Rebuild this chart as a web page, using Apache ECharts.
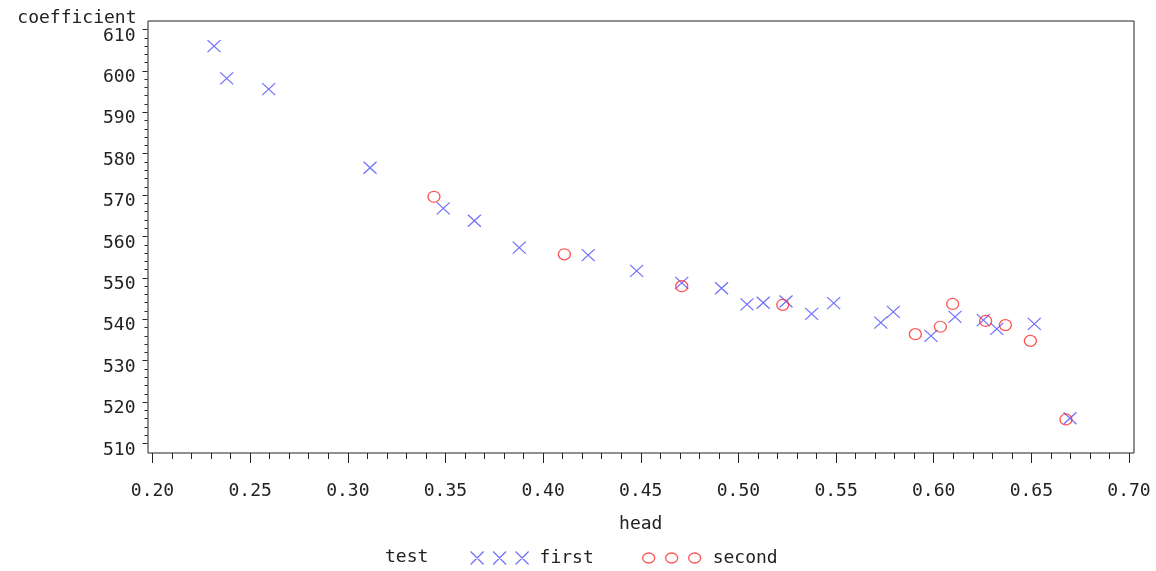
<!DOCTYPE html>
<html>
<head>
<meta charset="utf-8">
<script src="https://cdn.jsdelivr.net/npm/echarts@6/dist/echarts.min.js"></script>
<style>
  html, body { margin: 0; padding: 0; background: #fff; }
  #charts { width: 1156px; height: 571px; }
</style>
</head>
<body>
<div id="charts"></div>
<script>
// head / coefficient pairs
var headFirst = [0.2315, 0.2380, 0.2595, 0.3114, 0.3489, 0.3648, 0.3878, 0.4231, 0.4479, 0.4710, 0.4914, 0.5044,
  0.5127, 0.5244, 0.5375, 0.5488, 0.5729, 0.5793, 0.5986, 0.6109, 0.6254, 0.6323, 0.6515, 0.6698];
var coefFirst = [606.0, 598.2, 595.6, 576.6, 566.8, 563.8, 557.3, 555.5, 551.7, 548.8, 547.5, 543.6,
  544.0, 544.3, 541.3, 543.9, 539.2, 541.8, 536.0, 540.6, 539.8, 537.7, 538.9, 516.1];
var headSecond = [0.3441, 0.4109, 0.4710, 0.5227, 0.5906, 0.6034, 0.6097, 0.6266, 0.6367, 0.6495, 0.6677];
var coefSecond = [569.6, 555.7, 548.0, 543.5, 536.4, 538.2, 543.7, 539.6, 538.6, 534.8, 515.8];

var xTicks = [0.20, 0.25, 0.30, 0.35, 0.40, 0.45, 0.50, 0.55, 0.60, 0.65, 0.70];
var yTicks = [510, 520, 530, 540, 550, 560, 570, 580, 590, 600, 610];

var FONT = 'DejaVu Sans Mono';
var INK = '#222';
var BLUE = '#4c4cff';
var RED = '#ff2a2a';

function pairs(xs, ys) {
  return xs.map(function (x, i) { return [x, ys[i]]; });
}

var crossPath = 'path://M0,0L10,10M10,0L0,10';
var crossLegend = 'path://M0,0L13,13M13,0L0,13M22.5,0L35.5,13M35.5,0L22.5,13M45,0L58,13M58,0L45,13';
var ringLegend = 'path://M0,5a6,5 0 1,0 12,0a6,5 0 1,0 -12,0M23,5a6,5 0 1,0 12,0a6,5 0 1,0 -12,0M46,5a6,5 0 1,0 12,0a6,5 0 1,0 -12,0';

var myChart = echarts.init(document.getElementById('charts'));
myChart.setOption({
  animation: false,
  backgroundColor: '#fff',
  textStyle: { fontFamily: FONT, color: INK },
  grid: [
    // outer frame
    { left: 148, top: 21, right: 22, bottom: 118, show: true, borderColor: INK, borderWidth: 1, backgroundColor: '#fff' },
    // data area, 0.20..0.70 x 510..610
    { left: 152.5, top: 29.5, right: 27, bottom: 127.5 }
  ],
  xAxis: [
    { gridIndex: 0, type: 'value', show: false },
    {
      gridIndex: 1, type: 'value',
      min: xTicks[0], max: xTicks[xTicks.length - 1], interval: 0.05,
      offset: 9.5,
      axisLine: { show: false },
      axisTick: { show: true, length: 10, lineStyle: { color: INK } },
      minorTick: { show: true, splitNumber: 5, length: 6, lineStyle: { color: INK } },
      splitLine: { show: false },
      axisLabel: {
        margin: 29, fontFamily: FONT, fontSize: 18, color: INK,
        formatter: function (v) { return v.toFixed(2); }
      },
      name: 'head', nameLocation: 'middle', nameGap: 62,
      nameTextStyle: { fontFamily: FONT, fontSize: 18, color: INK }
    }
  ],
  yAxis: [
    { gridIndex: 0, type: 'value', show: false },
    {
      gridIndex: 1, type: 'value',
      min: yTicks[0], max: yTicks[yTicks.length - 1], interval: 10,
      offset: 5,
      axisLine: { show: false },
      axisTick: { show: true, length: 5, lineStyle: { color: INK } },
      minorTick: { show: true, splitNumber: 5, length: 3, lineStyle: { color: INK } },
      splitLine: { show: false },
      axisLabel: {
        margin: 12, color: INK,
        // SAS draws the numbers a little below their tick
        formatter: function (v) { return '{n|' + v + '}'; },
        rich: { n: { fontFamily: FONT, fontSize: 18, color: INK, padding: [13, 0, 0, 0] } }
      },
      name: 'coefficient', nameLocation: 'end', nameGap: 9,
      nameTextStyle: { fontFamily: FONT, fontSize: 18, color: INK, align: 'right', verticalAlign: 'middle', padding: [0, 11, 0, 0] }
    }
  ],
  legend: [
    {
      left: 465, top: 544, itemWidth: 58, itemHeight: 13,
      selectedMode: false,
      textStyle: { fontFamily: FONT, fontSize: 18, color: INK, padding: [0, 0, 0, 6] },
      data: [{ name: 'first', icon: crossLegend, itemStyle: { color: 'transparent', borderColor: BLUE, borderWidth: 1.2 } }]
    },
    {
      left: 637, top: 544, itemWidth: 58, itemHeight: 10,
      selectedMode: false,
      textStyle: { fontFamily: FONT, fontSize: 18, color: INK, padding: [0, 0, 0, 7] },
      data: [{ name: 'second', icon: ringLegend, itemStyle: { color: 'transparent', borderColor: RED, borderWidth: 1.3 } }]
    }
  ],
  graphic: [
    {
      type: 'text', left: 385, top: 548,
      style: { text: 'test', fontFamily: FONT, fontSize: 18, fill: INK }
    }
  ],
  series: [
    {
      name: 'first', type: 'scatter', xAxisIndex: 1, yAxisIndex: 1,
      symbol: crossPath, symbolSize: [13, 12], symbolKeepAspect: false,
      itemStyle: { color: 'transparent', borderColor: BLUE, borderWidth: 1.2 },
      emphasis: { disabled: true },
      data: pairs(headFirst, coefFirst)
    },
    {
      name: 'second', type: 'scatter', xAxisIndex: 1, yAxisIndex: 1,
      symbol: 'circle', symbolSize: [12, 11],
      itemStyle: { color: 'transparent', borderColor: RED, borderWidth: 1.3 },
      emphasis: { disabled: true },
      data: pairs(headSecond, coefSecond)
    }
  ]
});
</script>
</body>
</html>
